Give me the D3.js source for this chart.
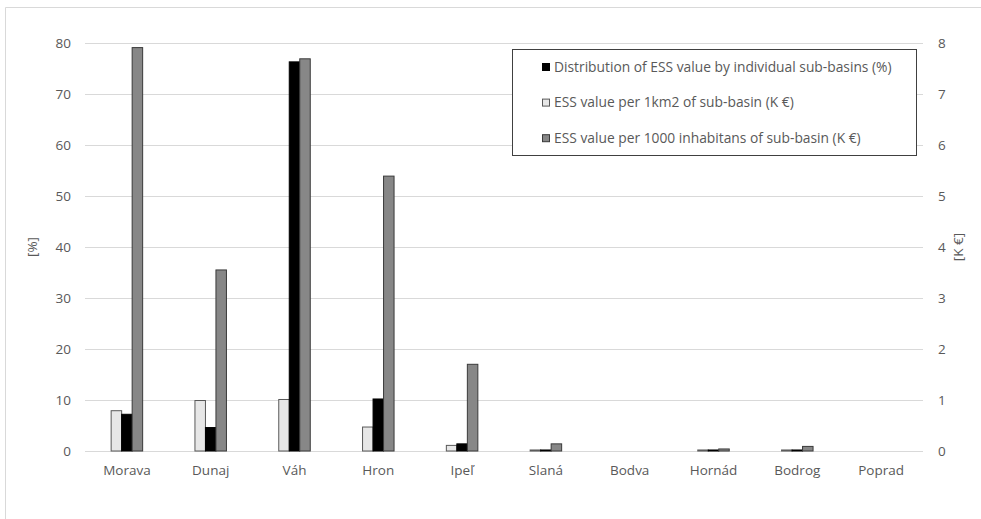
<!DOCTYPE html>
<html>
<head>
<meta charset="utf-8">
<script src="https://cdn.jsdelivr.net/npm/d3@7"></script>
<style>
  body { margin: 0; background: #fff; }
  svg text { font-family: "Open Sans", "Noto Sans", sans-serif; fill: #595959; }
</style>
</head>
<body>
<svg id="drawing_region"></svg>
<script>
// sub-basins and values
const categories = ['Morava', 'Dunaj', 'Váh', 'Hron', 'Ipeľ', 'Slaná', 'Bodva', 'Hornád', 'Bodrog', 'Poprad'];
const perKm2 = [0.79, 0.99, 1.01, 0.47, 0.11, 0.02, 0, 0.02, 0.02, 0];          // K €, right axis
const distribution = [7.2, 4.6, 76.3, 10.2, 1.4, 0.2, 0, 0.2, 0.2, 0];          // %, left axis
const perInhabitants = [7.91, 3.55, 7.69, 5.39, 1.70, 0.14, 0, 0.04, 0.09, 0];  // K €, right axis
const leftTicks = [0, 10, 20, 30, 40, 50, 60, 70, 80];
const rightTicks = [0, 1, 2, 3, 4, 5, 6, 7, 8];

const legendItems = [
  {label: 'Distribution of ESS value by individual sub-basins (%)', fill: '#000000', stroke: '#000000'},
  {label: 'ESS value per 1km2 of sub-basin (K €)', fill: '#e7e7e7', stroke: '#595959'},
  {label: 'ESS value per 1000 inhabitans of sub-basin (K €)', fill: '#878787', stroke: '#3a3a3a'}
];

const width = 981, height = 519;
const margin = {top: 43, right: 58, bottom: 68, left: 85};
const inner_width = width - margin.left - margin.right;
const inner_height = height - margin.top - margin.bottom;

const svg = d3.select('#drawing_region')
  .attr('width', width)
  .attr('height', height);

// outer chart border (only top and left edges fall inside the picture)
svg.append('path')
  .attr('d', `M5.5,${height} V7.5 H${width}`)
  .attr('fill', 'none').attr('stroke', '#d9d9d9');

const chart = svg.append('g')
  .attr('transform', `translate(${margin.left}, ${margin.top})`);

const xscale = d3.scaleBand()
  .domain(categories)
  .range([0, inner_width]);

const yleft = d3.scaleLinear().domain([0, 80]).range([inner_height, 0]);
const yright = d3.scaleLinear().domain([0, 8]).range([inner_height, 0]);

// gridlines
chart.append('g')
  .selectAll('line')
  .data(leftTicks)
  .join('line')
  .attr('x1', 0).attr('x2', inner_width)
  .attr('y1', d => Math.round(yleft(d)) + 0.5)
  .attr('y2', d => Math.round(yleft(d)) + 0.5)
  .attr('stroke', '#d9d9d9');

// left axis
const yaxis_left = chart.append('g')
  .call(d3.axisLeft(yleft).tickValues(leftTicks).tickSize(0).tickPadding(14));
yaxis_left.select('.domain').remove();
yaxis_left.selectAll('text').style('font-size', '13.5px').attr('fill', '#595959');

// right axis
const yaxis_right = chart.append('g')
  .attr('transform', `translate(${inner_width}, 0)`)
  .call(d3.axisRight(yright).tickValues(rightTicks).tickSize(0).tickPadding(15));
yaxis_right.select('.domain').remove();
yaxis_right.selectAll('text').style('font-size', '13.5px').attr('fill', '#595959');

// bottom axis labels
const xaxis = chart.append('g')
  .attr('transform', `translate(0, ${inner_height})`)
  .call(d3.axisBottom(xscale).tickSize(0).tickPadding(14));
xaxis.select('.domain').remove();
xaxis.selectAll('text').style('font-size', '13.5px').attr('fill', '#595959');

// axis titles
svg.append('text')
  .attr('transform', `translate(37, ${margin.top + yleft(40)}) rotate(-90)`)
  .attr('text-anchor', 'middle')
  .style('font-size', '13.5px')
  .text('[%]');
svg.append('text')
  .attr('transform', `translate(963, ${margin.top + yright(4)}) rotate(-90)`)
  .attr('text-anchor', 'middle')
  .style('font-size', '13.5px')
  .text('[K €]');

// bars: light, black, dark within each group
const barW = 10.5;
const series = [
  {values: perKm2, scale: yright, fill: '#e7e7e7', stroke: '#595959'},
  {values: distribution, scale: yleft, fill: '#000000', stroke: '#000000'},
  {values: perInhabitants, scale: yright, fill: '#878787', stroke: '#3a3a3a'}
];
const inner = d3.scaleBand().domain([0, 1, 2]).range([-1.5 * barW, 1.5 * barW]);

series.forEach((s, i) => {
  chart.append('g')
    .selectAll('rect')
    .data(categories.map((c, j) => ({label: c, value: s.values[j]})).filter(d => d.value > 0))
    .join('rect')
    .attr('x', d => xscale(d.label) + xscale.bandwidth() / 2 + inner(i))
    .attr('y', d => s.scale(d.value))
    .attr('width', inner.bandwidth())
    .attr('height', d => inner_height - s.scale(d.value))
    .attr('fill', s.fill)
    .attr('stroke', s.stroke)
    .attr('stroke-width', 1);
});

// legend
const legend = svg.append('g');
legend.append('rect')
  .attr('x', 512.5).attr('y', 49.5)
  .attr('width', 404).attr('height', 106)
  .attr('fill', '#fff').attr('stroke', '#404040');

const row = legend.selectAll('g.item')
  .data(legendItems)
  .join('g')
  .attr('class', 'item')
  .attr('transform', (d, i) => `translate(542, ${67 + i * 35.6})`);
row.append('rect')
  .attr('x', 0.5).attr('y', -3.5)
  .attr('width', 7).attr('height', 7)
  .attr('fill', d => d.fill)
  .attr('stroke', d => d.stroke);
row.append('text')
  .attr('x', 12).attr('y', 0)
  .attr('dy', '0.35em')
  .style('font-size', '13.8px')
  .text(d => d.label);
</script>
</body>
</html>
